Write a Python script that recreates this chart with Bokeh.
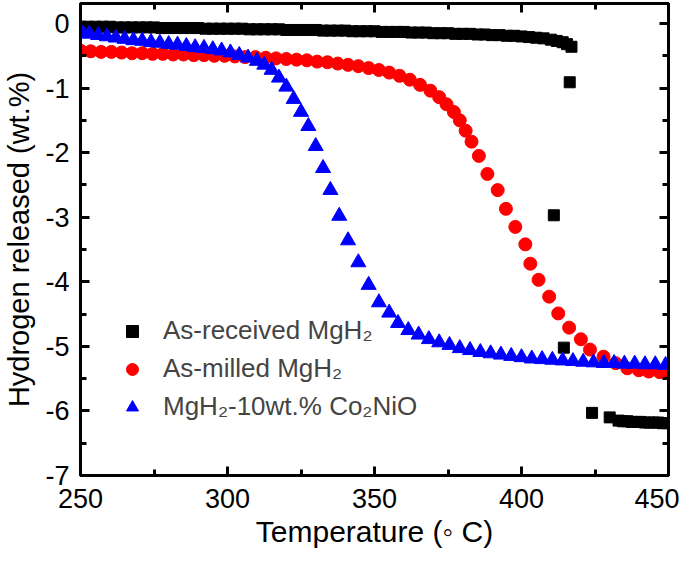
from bokeh.plotting import figure
from bokeh.models import LinearAxis, FixedTicker, Range1d, Legend, LegendItem
from bokeh.embed import file_html
from bokeh.resources import INLINE

# ---------------- data ----------------
received_T = [250, 252.5, 255, 257.5, 260, 262.5, 265, 267.5, 270, 272.5, 275, 277.5,
              280, 282.5, 285, 287.5, 290, 292.5, 295, 297.5, 300, 302.5, 305, 307.5,
              310, 312.5, 315, 317.5, 320, 322.5, 325, 327.5, 330, 332.5, 335, 337.5,
              340, 342.5, 345, 347.5, 350, 352.5, 355, 357.5, 360, 362.5, 365, 367.5,
              370, 372.5, 375, 377.5, 380, 382.5, 385, 387.5, 390, 392.5, 395, 397.5,
              400, 402.5, 405, 407.5, 410, 412, 414, 415.5, 417,
              416.4, 411, 414.4, 424, 430,
              433, 434.5, 436, 437.5, 439, 440.5, 442, 443.5, 445, 446.5, 448, 449.5]
received_H = [-0.05, -0.05, -0.05, -0.05, -0.05, -0.06, -0.06, -0.06, -0.06, -0.06, -0.06, -0.07,
              -0.07, -0.07, -0.07, -0.07, -0.07, -0.08, -0.08, -0.08, -0.08, -0.08, -0.08, -0.09,
              -0.09, -0.09, -0.09, -0.09, -0.10, -0.10, -0.10, -0.10, -0.10, -0.11, -0.11, -0.11,
              -0.11, -0.12, -0.12, -0.12, -0.12, -0.13, -0.13, -0.13, -0.13, -0.14, -0.14, -0.14,
              -0.15, -0.15, -0.15, -0.16, -0.16, -0.16, -0.17, -0.17, -0.18, -0.18, -0.19, -0.19,
              -0.20, -0.21, -0.22, -0.23, -0.25, -0.27, -0.29, -0.32, -0.36,
              -0.91, -2.97, -5.02, -6.03, -6.10,
              -6.15, -6.16, -6.16, -6.17, -6.17, -6.17, -6.18, -6.18, -6.18, -6.18, -6.19, -6.19]

milled_T = [250, 253.5, 257, 260.5, 264, 267.5, 271, 274.5, 278, 281.5, 285, 288.5,
            292, 295.5, 299, 302.5, 306, 309.5, 313, 316.5, 320, 323.5, 327, 330.5,
            334, 337.5, 341, 344.5, 348, 351.5, 355, 358.5, 362, 365.5, 369, 372,
            374.5, 377, 379, 381, 383, 385.5, 388.4, 391.9, 394.7, 397.9, 401.3, 403,
            405.8, 409.4, 412.5, 416.2, 420.2, 423.3, 427.9, 432, 436, 439.9,
            443.3, 447, 450]
milled_H = [-0.42, -0.43, -0.44, -0.44, -0.45, -0.46, -0.46, -0.47, -0.47, -0.48, -0.48, -0.49,
            -0.49, -0.50, -0.50, -0.51, -0.52, -0.52, -0.53, -0.54, -0.55, -0.56, -0.57, -0.59,
            -0.60, -0.62, -0.64, -0.66, -0.69, -0.72, -0.76, -0.81, -0.87, -0.95, -1.04, -1.14,
            -1.25, -1.37, -1.50, -1.66, -1.83, -2.05, -2.33, -2.58, -2.87, -3.15, -3.42, -3.72,
            -3.97, -4.23, -4.49, -4.71, -4.89, -5.05, -5.16, -5.26, -5.34, -5.37,
            -5.39, -5.40, -5.40]

doped_T = [250.5, 253, 256, 259, 262, 265, 268, 271, 274, 277, 280, 283, 286, 289, 292,
           295, 298, 301, 304, 307, 310, 312.5, 315, 317.5, 320, 322.5, 325, 327.5, 330,
           332.5, 335, 338, 341, 344.5, 348, 351.5, 355, 358, 361.5, 365, 368.5, 372,
           375.5, 379, 382.5, 386, 389.5, 393, 396.5, 400, 403.5, 407, 410.5, 414, 417.5,
           421, 424.5, 428, 431.5, 435, 438.5, 442, 445.5, 449]
doped_H = [-0.13, -0.16, -0.18, -0.20, -0.22, -0.24, -0.26, -0.27, -0.29, -0.30, -0.32, -0.33,
           -0.35, -0.37, -0.38, -0.40, -0.42, -0.45, -0.49, -0.53, -0.58, -0.64, -0.72, -0.84,
           -0.98, -1.17, -1.37, -1.59, -1.90, -2.24, -2.58, -2.98, -3.36, -3.70, -4.05, -4.32,
           -4.48, -4.64, -4.75, -4.82, -4.89, -4.94, -4.98, -5.03, -5.06, -5.09, -5.11, -5.13,
           -5.15, -5.17, -5.19, -5.20, -5.21, -5.22, -5.23, -5.24, -5.25, -5.26, -5.26, -5.27,
           -5.27, -5.28, -5.28, -5.29]

x_major = [250, 300, 350, 400, 450]
x_minor = [275, 325, 375, 425]
y_major = [0, -1, -2, -3, -4, -5, -6, -7]
y_minor = [-0.5, -1.5, -2.5, -3.5, -4.5, -5.5, -6.5]
y_tick_labels = ["0", "-1", "-2", "-3", "-4", "-5", "-6", "-7"]

x_title = "Temperature (\u25e6 C)"
y_title = "Hydrogen released (wt.%)"
labels = ["As-received MgH\u2082", "As-milled MgH\u2082", "MgH\u2082-10wt.% Co\u2082NiO"]

FONT = "Liberation Sans"

p = figure(width=679, height=550, x_range=Range1d(250, 450), y_range=Range1d(-7, 0.31),
           output_backend="svg", toolbar_location=None,
           min_border_top=3, min_border_right=11, min_border_left=78, min_border_bottom=74,
           x_axis_label=x_title, y_axis_label=y_title)
p.xgrid.visible = False
p.ygrid.visible = False
p.outline_line_color = "black"
p.outline_line_width = 3
p.background_fill_color = "white"
p.border_fill_color = "white"

xt = FixedTicker(ticks=x_major, minor_ticks=x_minor)
yt = FixedTicker(ticks=y_major, minor_ticks=y_minor)
p.xaxis.ticker = xt
p.yaxis.ticker = yt
p.yaxis.major_label_overrides = {v: s for v, s in zip(y_major, y_tick_labels)}


def style(ax, labels_on=True):
    ax.axis_line_width = 3
    ax.axis_line_color = "black"
    ax.major_tick_in = 9
    ax.major_tick_out = 0
    ax.minor_tick_in = 6
    ax.minor_tick_out = 0
    ax.major_tick_line_width = 3
    ax.minor_tick_line_width = 3
    ax.major_tick_line_color = "black"
    ax.minor_tick_line_color = "black"
    if labels_on:
        ax.major_label_text_font = FONT
        ax.major_label_text_font_size = "27px"
        ax.major_label_text_color = "black"
        ax.axis_label_text_font = FONT
        ax.axis_label_text_font_style = "normal"
        ax.axis_label_text_color = "black"
        ax.axis_label_text_line_height = 1.0
    else:
        ax.major_label_text_font_size = "1px"
        ax.major_label_text_color = None
        ax.major_label_standoff = 0


style(p.xaxis[0])
style(p.yaxis[0])
p.xaxis.major_label_standoff = 13
p.xaxis.axis_label_standoff = 4
p.xaxis.axis_label_text_font_size = "30px"
p.yaxis.major_label_standoff = 11
p.yaxis.axis_label_standoff = 7
p.yaxis.axis_label_text_font_size = "29px"

top = LinearAxis(ticker=xt)
right = LinearAxis(ticker=yt)
style(top, False)
style(right, False)
p.add_layout(top, "above")
p.add_layout(right, "right")

r_rec = p.scatter(received_T, received_H, marker="square", size=11, color="black")
r_mil = p.scatter(milled_T, milled_H, marker="circle", size=13, color="#ff0000")
r_dop = p.scatter(doped_T, doped_H, marker="triangle", size=15, color="#0000ff")

legend = Legend(items=[LegendItem(label=labels[0], renderers=[r_rec]),
                       LegendItem(label=labels[1], renderers=[r_mil]),
                       LegendItem(label=labels[2], renderers=[r_dop])],
                location=(37, 53), padding=0, margin=0, spacing=7,
                glyph_width=30, glyph_height=30, label_height=30, label_standoff=16,
                label_text_font=FONT, label_text_font_size="26px",
                background_fill_alpha=0, border_line_alpha=0)
p.add_layout(legend, "center")

open("out.html", "w").write(file_html(p, INLINE))
